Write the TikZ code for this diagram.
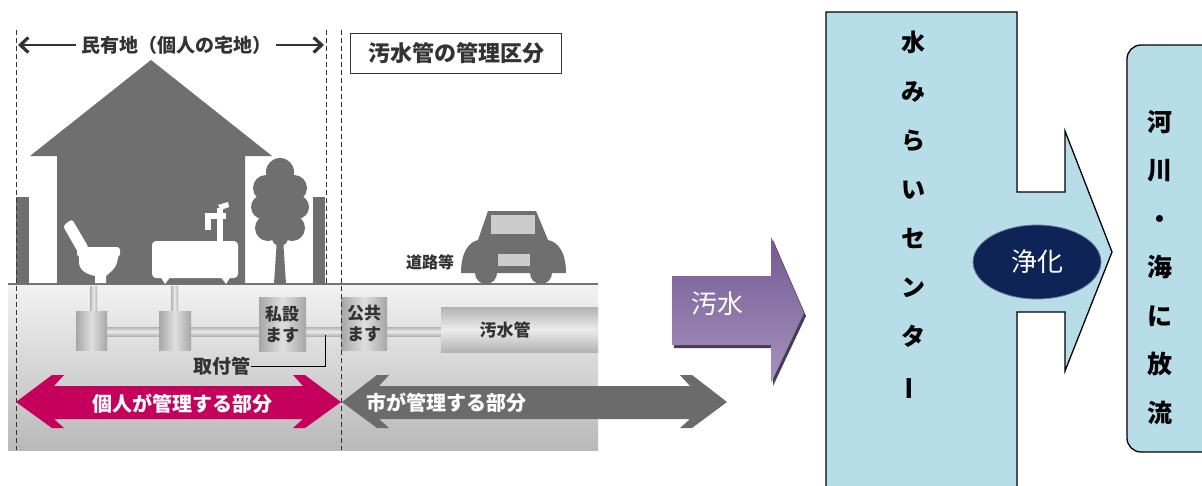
\documentclass[tikz,border=0pt]{standalone}
\usepackage{fontspec}
\newfontfamily\jp{Noto Sans CJK JP}
\usetikzlibrary{shapes.geometric,shadows,arrows.meta}

\definecolor{housegray}{HTML}{6F6F6F}
\definecolor{ownmagenta}{HTML}{C4005C}
\definecolor{citygray}{HTML}{6B6B6B}
\definecolor{centerblue}{HTML}{B7DEE8}
\definecolor{purifyblue}{HTML}{0F2456}
\definecolor{sewagepurple}{HTML}{8064A2}
\definecolor{inktext}{HTML}{333333}

\begin{document}
\begin{tikzpicture}[x=1pt, y=-1pt,
      every node/.append style={inner sep=0pt, outer sep=0pt},
      jpfont/.style={font=\jp\fontsize{#1}{#1}\selectfont},
      plain/.style={jpfont=#1, text=inktext},
      heavy/.style={font=\jp\bfseries\fontsize{#1}{#1}\selectfont, text=inktext},
      masu/.style={draw=none, left color=gray!70, right color=gray!70, middle color=gray!25},
      vpipe/.style={left color=gray!60, right color=gray!60, middle color=gray!15},
      hpipe/.style={top color=gray!60, bottom color=gray!60, middle color=gray!15},
      boundary/.style={dashed, dash pattern=on 5pt off 3pt, line width=0.8pt, black!80},
      lotarrow/.style={inktext, line width=1.2pt, -{Straight Barb[length=8pt, width=15pt, line width=3.2pt]}}]
    \useasboundingbox (0,0) rectangle (1202,485);
    \fill[white] (0,0) rectangle (1202,485);

    % ground
    \shade[top color=gray!10, bottom color=gray!55] (8,284) rectangle (598,450);
    \draw[gray!90!black, line width=1.5pt] (8,284) -- (598,284);

    % house, walls and tree
    \fill[housegray] (151,60) -- (272,156) -- (245,156) -- (245,284) -- (57,284)
      -- (57,156) -- (30,156) -- cycle;
    \fill[housegray] (16,197) rectangle (29,284);
    \fill[housegray] (313,197) rectangle (325,284);
    \fill[housegray] (274,284) -- (277,238) -- (283,238) -- (286,284) -- cycle;
    \foreach \cx/\cy/\r in {280/172/14, 266/188/13, 294/188/13, 263/207/12, 297/207/12,
        268/228/13, 292/228/13, 280/205/20, 280/238/8}
      \fill[housegray] (\cx,\cy) circle (\r);

    % toilet
    \fill[white, rounded corners=3pt] (63,226) -- (72,219) -- (89,248) -- (79,254) -- cycle;
    \fill[white, rounded corners=3pt] (77,247) rectangle (120,257);
    \fill[white] (79,256) -- (118,256) .. controls (118,268) and (110,272) .. (106,276)
      -- (106,283) -- (95,283) -- (95,276) .. controls (86,274) and (79,270) .. (79,262) -- cycle;
    % bath
    \fill[white, rounded corners=4pt] (152,241) rectangle (238,278);
    \fill[white] (160,276) -- (165,284) -- (171,276) -- cycle;
    \fill[white] (220,276) -- (226,284) -- (231,276) -- cycle;
    \fill[white] (205,213) rectangle (226,219);
    \fill[white] (205,213) rectangle (211,230);
    \fill[white] (217,208) rectangle (223,242);
    \fill[white] (218,205) -- (228,202) -- (229,207) -- (221,210) -- cycle;

    % car
    \fill[housegray] (461,273) .. controls (461,252) and (469,242) .. (478,240) -- (488,211)
      -- (536,211) -- (548,240) .. controls (558,242) and (566,252) .. (566,273) -- cycle;
    \fill[housegray] (486,273) circle (11);
    \fill[housegray] (541,273) circle (11);
    \fill[gray!40] (491,215) rectangle (535,234);
    \fill[gray!40] (498,254) rectangle (530,266);
    \node (road) [heavy=16] at (430,262) {道路等};

    % pipes and inspection boxes
    \shade[vpipe] (90,286) rectangle (97,312);
    \shade[vpipe] (171,286) rectangle (178,312);
    \shade[hpipe] (107,327) rectangle (441,336);
    \shade[hpipe] (441,307) rectangle (598,352);
    \shade[masu] (76,311) rectangle (107,350);
    \shade[masu] (159,311) rectangle (191,350);
    \shade[masu] (259,297) rectangle (306,351);
    \shade[masu] (341,297) rectangle (387,350);
    \node (private) [heavy=17, align=center, font=\jp\bfseries\fontsize{17}{21}\selectfont] at (282,324) {私設\\ます};
    \node (public) [heavy=17, align=center, font=\jp\bfseries\fontsize{17}{21}\selectfont] at (364,324) {公共\\ます};
    \node (sewer) [heavy=17] at (505,330) {汚水管};
    \node (lateral) [heavy=19] at (222,366) {取付管};
    \coordinate (lateralEnd) at (325,335);
    \draw[black, line width=0.8pt] (lateral.east) -- (lateral.east -| lateralEnd) -- (lateralEnd);

    % boundaries
    \draw[boundary] (16,30) -- (16,450);
    \draw[boundary] (326,30) -- (326,284);
    \draw[boundary] (341,30) -- (341,450);

    % private lot span
    \node (lot) [plain=19, font=\jp\bfseries\fontsize{19}{19}\selectfont] at (176,45) {民有地（個人の宅地）};
    \coordinate (lotL) at (18,45);
    \coordinate (lotR) at (324,45);
    \draw[lotarrow] (lot.west) ++(-5,0) -- (lotL);
    \draw[lotarrow] (lot.east) ++(5,0) -- (lotR);

    \node (title) [heavy=22, draw=inktext, line width=1pt, minimum width=211, minimum height=40]
      at (456,53) {汚水管の管理区分};

    % who manages what
    \fill[ownmagenta] (16,402) -- (52,375) -- (64,375) -- (54,386) -- (303,386) -- (293,375)
      -- (305,375) -- (341,402) -- (305,428) -- (293,428) -- (303,419) -- (54,419)
      -- (64,428) -- (52,428) -- cycle;
    \node (owner) [font=\jp\bfseries\fontsize{20}{20}\selectfont, text=white] at (182,404) {個人が管理する部分};
    \fill[citygray] (342,402) -- (377,375) -- (389,375) -- (379,386) -- (690,386) -- (680,375)
      -- (692,375) -- (727,402) -- (692,428) -- (680,428) -- (690,419) -- (379,419)
      -- (389,428) -- (377,428) -- cycle;
    \node (city) [font=\jp\bfseries\fontsize{20}{20}\selectfont, text=white, anchor=west] at (366,403) {市が管理する部分};

    % flow to the treatment centre
    \shade[top color=sewagepurple!90!black, bottom color=sewagepurple!70!white,
      drop shadow={shadow xshift=2pt, shadow yshift=-3pt, fill=sewagepurple!40!black, opacity=0.9}]
      (672,276) -- (771,276) -- (771,237) -- (804,313) -- (771,383) -- (771,345) -- (672,345) -- cycle;
    \node (sewage) [font=\jp\fontsize{26}{26}\selectfont, text=white] at (717,304) {汚水};

    \filldraw[fill=centerblue, draw=black, line width=1.3pt]
      (826,487) -- (826,12) -- (1017,12) -- (1017,192) -- (1065,192) -- (1065,131)
      -- (1112,252) -- (1065,371) -- (1065,312) -- (1017,312) -- (1017,487);
    \node (center) [font=\jp\bfseries\fontsize{24}{49}\selectfont, align=center, anchor=north]
      at (913,31) {水\\み\\ら\\い\\セ\\ン\\タ\\\rotatebox[origin=c]{90}{ー}};
    \node (purify) [ellipse, fill=purifyblue, draw=purifyblue!60!white, line width=0.8pt,
      minimum width=128, minimum height=74, font=\jp\fontsize{26}{26}\selectfont, text=white]
      at (1037,262) {浄化};

    \filldraw[fill=centerblue, draw=black, line width=1.3pt, rounded corners=14pt]
      (1127,45) rectangle (1230,452);
    \node (river) [font=\jp\bfseries\fontsize{25}{48.5}\selectfont, align=center, anchor=north]
      at (1160,110) {河\\川\\・\\海\\に\\放\\流};
\end{tikzpicture}
\end{document}
